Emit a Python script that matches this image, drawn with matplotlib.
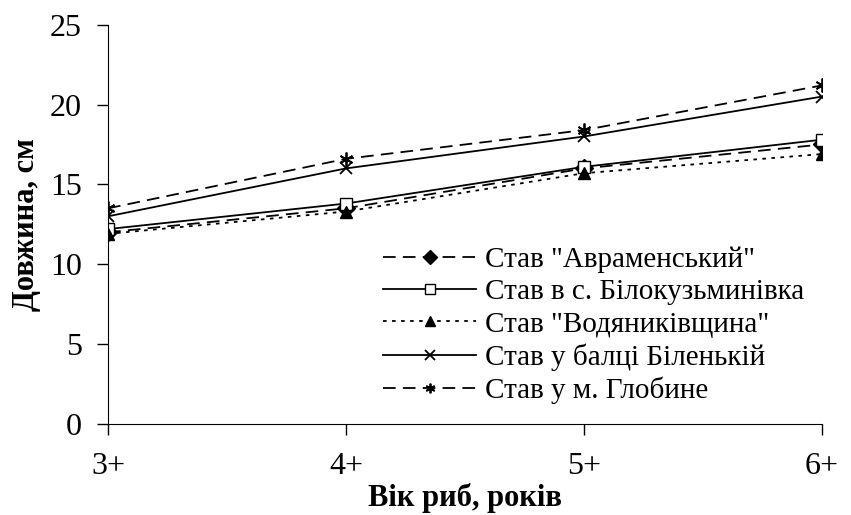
import matplotlib
matplotlib.use("Agg")
import matplotlib.pyplot as plt

ages = ["3+", "4+", "5+", "6+"]
avramenskyi = [12.0, 13.5, 16.0, 17.5]
bilokuzmynivka = [12.2, 13.8, 16.1, 17.8]
vodianykivshchyna = [11.9, 13.3, 15.7, 16.9]
bilenkyi = [13.0, 16.0, 18.0, 20.5]
hlobyne = [13.5, 16.6, 18.4, 21.2]

labels = ['Став "Авраменський"', 'Став в с. Білокузьминівка',
          'Став "Водяниківщина"', 'Став у балці Біленькій', 'Став у м. Глобине']

plt.rcParams['font.family'] = ['Liberation Serif', 'DejaVu Serif']

fig = plt.figure(figsize=(8.51, 5.15), dpi=100)
ax = fig.add_axes([0.127, 0.177, 0.839, 0.775])
x = list(range(len(ages)))

dash = (0, (7, 4))
ax.plot(x, avramenskyi, color='black', lw=1.3, ls=dash, marker='D', ms=9,
        mfc='black', mec='black', label=labels[0])
ax.plot(x, bilokuzmynivka, color='black', lw=1.3, ls='-', marker='s', ms=8,
        mfc='white', mec='black', label=labels[1])
ax.plot(x, vodianykivshchyna, color='black', lw=1.3, ls=(0, (2, 3)), marker='^', ms=8,
        mfc='black', mec='black', label=labels[2])
ax.plot(x, bilenkyi, color='black', lw=1.3, ls='-', marker='x', ms=9, mew=1.3,
        label=labels[3])
ax.plot(x, hlobyne, color='black', lw=1.3, ls=dash, marker=(6, 2, 0), ms=10, mew=1.3,
        label=labels[4])

ax.set_xlim(0, 3)
ax.set_ylim(0, 25)
ax.set_xticks(x)
ax.set_xticklabels(ages)
ax.set_yticks([0, 5, 10, 15, 20, 25])
ax.spines['top'].set_visible(False)
ax.spines['right'].set_visible(False)
ax.tick_params(axis='both', labelsize=23, direction='out', length=8, width=1, colors='black')
ax.tick_params(axis='y', pad=11)
ax.tick_params(axis='x', pad=12)
ax.set_xlabel('Вік риб, років', fontsize=22, fontweight='bold', labelpad=2)
ax.set_ylabel('Довжина, см', fontsize=22, fontweight='bold', labelpad=6)

leg = fig.legend(loc='lower right', bbox_to_anchor=(0.945, 0.215), frameon=False, fontsize=21,
                 handlelength=3.2, handletextpad=0.3, labelspacing=0.2, borderaxespad=0.0,
                 borderpad=0.0)
for line in leg.get_lines():
    line.set_markersize(7)

fig.savefig('out.png', dpi=100)
